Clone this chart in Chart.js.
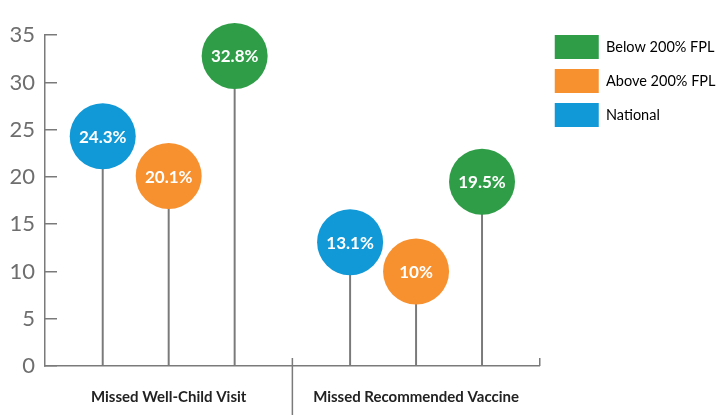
<!DOCTYPE html>
<html>
<head>
<meta charset="utf-8">
<script src="https://cdn.jsdelivr.net/npm/chart.js@4"></script>
<style>
    html, body { margin: 0; padding: 0; background: #fff; }
    .wrap { width: 717px; height: 415px; position: relative; }
</style>
</head>
<body>
<div class="wrap"><canvas id="missedChart"></canvas></div>
<script>
// data
const categories = ["Missed Well-Child Visit", "Missed Recommended Vaccine"];
const nationalData = [24.3, 13.1];
const aboveFplData = [20.1, 10];
const belowFplData = [32.8, 19.5];
const yTickMin = 0;
const yTickMax = 35;
const yTickStep = 5;

const stemColor = "#7a7a7a";

document.addEventListener("DOMContentLoaded", function () {
    Chart.defaults.font.family = "Lato, 'Open Sans', sans-serif";

    // circle on top of every stem, centred on the value
    const lollipops = {
        id: "lollipops",
        afterDatasetsDraw(chart) {
            const ctx = chart.ctx;
            chart.data.datasets.forEach((ds, i) => {
                const meta = chart.getDatasetMeta(i);
                meta.data.forEach((bar, j) => {
                    ctx.save();
                    ctx.beginPath();
                    ctx.arc(bar.x, bar.y, 33, 0, Math.PI * 2);
                    ctx.fillStyle = ds.dotColor;
                    ctx.fill();
                    ctx.fillStyle = "#fff";
                    ctx.font = "bold 17px Lato, sans-serif";
                    ctx.textAlign = "center";
                    ctx.textBaseline = "middle";
                    ctx.fillText(ds.data[j] + "%", bar.x, bar.y + 1);
                    ctx.restore();
                });
            });
        }
    };

    // divider between the two groups and the stub at the axis end
    const dividers = {
        id: "dividers",
        afterLayout(chart) {
            // legend sits a bit further from the plot than chart.js puts it
            chart.legend.left += 5;
            chart.legend.right += 5;
        },
        afterDraw(chart) {
            const x = chart.scales.x;
            const ctx = chart.ctx;
            const mid = (x.getPixelForValue(0) + x.getPixelForValue(1)) / 2;
            ctx.save();
            ctx.strokeStyle = stemColor;
            ctx.lineWidth = 1.5;
            ctx.beginPath();
            ctx.moveTo(mid, x.top - 8);
            ctx.lineTo(mid, chart.height);
            ctx.moveTo(x.right, x.top - 8);
            ctx.lineTo(x.right, x.top);
            ctx.stroke();
            ctx.restore();
        }
    };

    const ctx = document.getElementById("missedChart").getContext("2d");
    new Chart(ctx, {
        type: "bar",
        data: {
            labels: categories,
            datasets: [
                { label: "National", data: nationalData, dotColor: "#1198d6" },
                { label: "Above 200% FPL", data: aboveFplData, dotColor: "#f7902f" },
                { label: "Below 200% FPL", data: belowFplData, dotColor: "#2f9d48" }
            ].map(d => Object.assign(d, {
                backgroundColor: stemColor,
                categoryPercentage: 0.8,
                barPercentage: 0.03
            }))
        },
        options: {
            responsive: true,
            maintainAspectRatio: false,
            animation: false,
            layout: { padding: { top: 25, left: 8, right: 0, bottom: 0 } },
            scales: {
                x: {
                    grid: { display: false },
                    border: { color: stemColor, width: 1.5 },
                    ticks: {
                        color: "#222",
                        padding: 14,
                        font: { size: 15, weight: "bold" }
                    },
                    afterFit: (scale) => { scale.height = 49; }
                },
                y: {
                    min: yTickMin,
                    max: yTickMax,
                    grid: {
                        drawOnChartArea: false,
                        drawTicks: true,
                        tickLength: -12,
                        color: stemColor,
                        lineWidth: 1.5
                    },
                    border: { color: stemColor, width: 1.5 },
                    ticks: {
                        stepSize: yTickStep,
                        color: "#6e6e6e",
                        padding: 22,
                        font: { size: 22, weight: "normal" }
                    },
                    afterFit: (scale) => { scale.width = 37; }
                }
            },
            plugins: {
                tooltip: { enabled: false },
                legend: {
                    position: "right",
                    align: "start",
                    reverse: true,
                    labels: {
                        boxWidth: 44,
                        boxHeight: 24,
                        padding: 10,
                        color: "#777",
                        font: { size: 14.5 },
                        generateLabels: function (chart) {
                            return chart.data.datasets.map((ds, i) => ({
                                text: ds.label,
                                fillStyle: ds.dotColor,
                                strokeStyle: ds.dotColor,
                                lineWidth: 0,
                                datasetIndex: i
                            }));
                        }
                    }
                }
            }
        },
        plugins: [lollipops, dividers]
    });
});
</script>
</body>
</html>
